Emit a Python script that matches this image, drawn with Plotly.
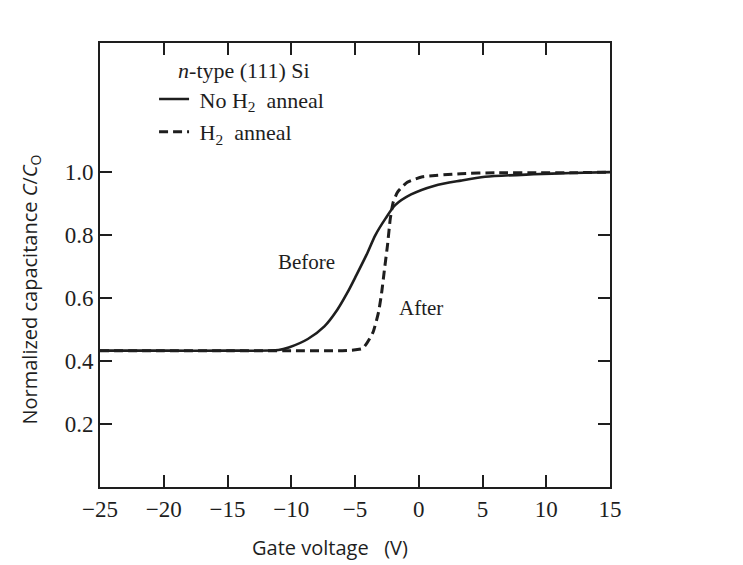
import plotly.graph_objects as go

# Gate voltage (V) and normalized capacitance C/Co
v_before = [-25, -20, -15, -11, -10.2, -8.7, -7.4, -6.4, -5.6, -4.9, -4.1, -3.4, -2.6, -1.85,
            -0.6, 1.25, 3.3, 5.2, 9.0, 12.0, 15]
c_before = [0.433, 0.433, 0.433, 0.435, 0.443, 0.47, 0.51, 0.562, 0.617, 0.672, 0.737, 0.80,
            0.853, 0.895, 0.929, 0.957, 0.973, 0.985, 0.993, 0.997, 1.0]

v_after = [-25, -20, -15, -10, -6, -4.4, -3.6, -3.15, -2.9, -2.68, -2.45, -2.23, -2.0, -1.65,
           -0.9, 0.3, 3.3, 6.0, 9.5, 12.0, 15]
c_after = [0.433, 0.433, 0.433, 0.433, 0.433, 0.44, 0.49, 0.556, 0.62, 0.694, 0.768, 0.853,
           0.905, 0.937, 0.968, 0.985, 0.995, 0.998, 0.998, 0.998, 1.0]

x_ticks = [-25, -20, -15, -10, -5, 0, 5, 10, 15]
y_ticks = [0.2, 0.4, 0.6, 0.8, 1.0]
y_tick_text = ["0.2", "0.4", "0.6", "0.8", "1.0"]

serif = "Liberation Serif"
sans = "Open Sans"
ink = "#1e1e1e"

fig = go.Figure()
fig.add_trace(go.Scatter(x=v_before, y=c_before, mode="lines", name="&nbsp;No H<sub>2</sub>&nbsp;&nbsp;anneal",
                         line=dict(color=ink, width=2.6, shape="spline", smoothing=0.8),
                         legendgroup="a"))
fig.add_trace(go.Scatter(x=v_after, y=c_after, mode="lines", name="&nbsp;H<sub>2</sub>&nbsp;&nbsp;anneal",
                         line=dict(color=ink, width=3, dash="9px,5px", shape="spline", smoothing=0.5),
                         legendgroup="b"))

fig.add_annotation(x=-8.8, y=0.715, text="Before", showarrow=False, xref="x", yref="y",
                   font=dict(family=serif, size=21, color=ink))
fig.add_annotation(x=0.2, y=0.57, text="After", showarrow=False, xref="x", yref="y",
                   font=dict(family=serif, size=21, color=ink))

# axis titles (placed as annotations to match their off-centre positions)
fig.add_annotation(x=-0.137, y=0.445, xref="paper", yref="paper", textangle=-90,
                   xanchor="center", yanchor="middle",
                   text="Normalized capacitance <i>C</i>/<i>C</i><sub>O</sub>", showarrow=False,
                   font=dict(family=sans, size=20, color=ink))
fig.add_annotation(x=0.451, y=-0.137, xref="paper", yref="paper",
                   xanchor="center", yanchor="middle",
                   text="Gate voltage   (V)", showarrow=False,
                   font=dict(family=sans, size=20, color=ink))

fig.update_layout(
    width=743, height=565,
    margin=dict(l=100, r=133, t=43, b=78),
    paper_bgcolor="white", plot_bgcolor="white",
    showlegend=True,
    legend=dict(x=0.106, y=0.985, xanchor="left", yanchor="top",
                bgcolor="rgba(0,0,0,0)", borderwidth=0,
                traceorder="grouped", tracegroupgap=1,
                font=dict(family=serif, size=22, color=ink),
                title=dict(text="&nbsp;&nbsp;&nbsp;&nbsp;<i>n</i>-type (111) Si",
                           font=dict(family=serif, size=22, color=ink))),
    xaxis=dict(range=[-25, 15], tickvals=x_ticks, ticks="inside", ticklen=12, tickwidth=2,
               tickcolor=ink, showline=True, linecolor=ink, linewidth=2, mirror="ticks",
               showgrid=False, zeroline=False,
               tickfont=dict(family=serif, size=23, color=ink)),
    yaxis=dict(range=[0, 1.41], tickvals=y_ticks, ticktext=y_tick_text, ticks="inside", ticklen=12,
               tickwidth=2, tickcolor=ink, showline=True, linecolor=ink, linewidth=2, mirror="ticks",
               showgrid=False, zeroline=False,
               tickfont=dict(family=serif, size=23, color=ink)),
)

fig.write_html("out.html")
